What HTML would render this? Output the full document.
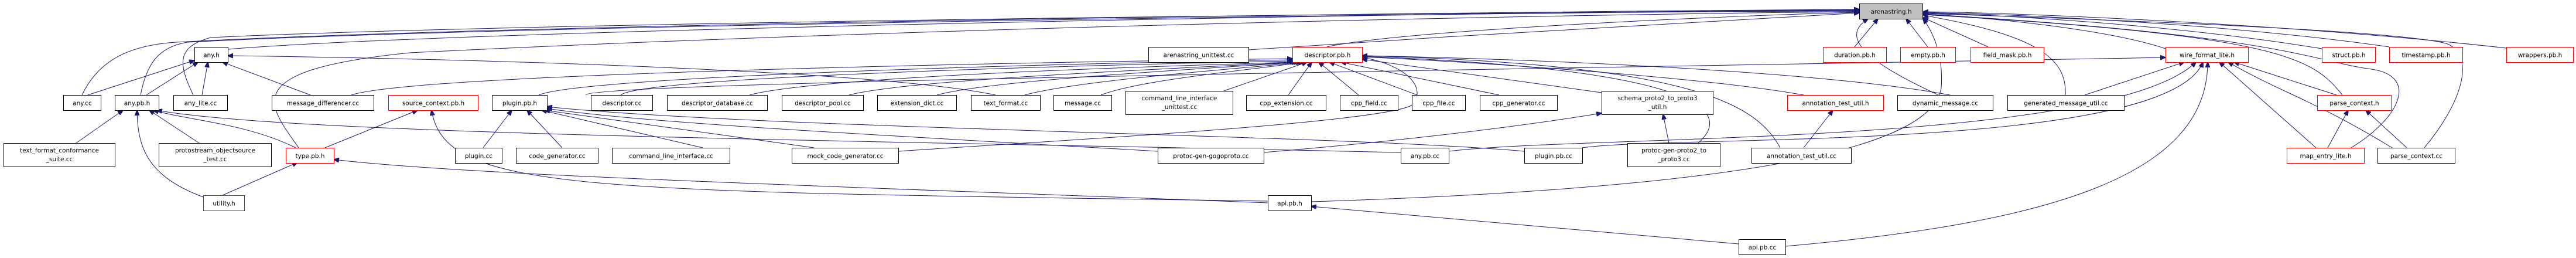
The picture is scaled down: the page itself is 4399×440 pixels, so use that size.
<!DOCTYPE html>
<html><head><meta charset="utf-8"><style>
html,body{margin:0;padding:0;background:#fff;}
svg{display:block;}
text{font-family:"DejaVu Sans","Liberation Sans",sans-serif;font-size:10.5px;fill:#000;}
.n{fill:#fff;stroke:#000;stroke-width:1;}
.r{fill:#fff;stroke:#ff0000;stroke-width:1;}
.g{fill:#bfbfbf;stroke:#000;stroke-width:1;}
path.e{fill:none;stroke:#191970;stroke-width:1;marker-end:url(#a);}
</style></head><body>
<svg width="4399" height="440" viewBox="0 0 4399 440" xmlns="http://www.w3.org/2000/svg">
<defs><marker id="a" markerWidth="10" markerHeight="8" refX="9" refY="4" orient="auto" markerUnits="userSpaceOnUse"><path d="M0,0 L10,4 L0,8 z" fill="#191970" stroke="#191970"/></marker></defs>
<g>
<!-- edges to arenastring.h -->
<path class="e" d="M389,84 C800,50 2500,20 3175,17"/>
<path class="e" d="M140,162 C165,110 210,78 300,72 C900,40 2500,20 3175,16"/>
<path class="e" d="M240,162 C250,110 270,80 320,72 C900,42 2500,22 3175,18"/>
<path class="e" d="M330,162 C305,110 300,80 360,64 C900,38 2500,20 3175,19"/>
<path class="e" d="M510,252 C460,180 400,120 700,90 C1500,50 2600,25 3175,20"/>
<path class="e" d="M2132,85 C2500,60 3000,30 3175,22"/>
<path class="e" d="M2266,80 C2400,50 3000,25 3175,21"/>
<path class="e" d="M3167,80 L3207,32"/>
<path class="e" d="M3292,80 L3255,32"/>
<path class="e" d="M3395,80 L3284,30"/>
<path class="e" d="M3698,83 C3600,50 3400,30 3284,24"/>
<path class="e" d="M3965,83 C3700,40 3400,25 3284,22"/>
<path class="e" d="M4080,80 C3800,40 3450,25 3284,21"/>
<path class="e" d="M4280,82 C3900,40 3450,22 3284,20"/>
<path class="e" d="M3310,162 C3220,120 3130,70 3190,32"/>
<path class="e" d="M3527,162 C3530,100 3480,60 3284,26"/>
<path class="e" d="M4000,162 C3950,100 3900,60 3284,25"/>
<path class="e" d="M4015,252 C4100,200 4130,130 4050,118 C3950,105 3900,60 3284,24"/>
<path class="e" d="M4140,252 C4200,180 4230,100 4180,75 C4100,50 3500,30 3284,23"/>
<path class="e" d="M2239,344 C3000,320 3300,250 3315,150 C3320,80 3290,40 3284,32"/>
<!-- descriptor.pb.h -->
<path class="e" d="M600,162 C700,130 1500,110 2207,100"/>
<path class="e" d="M920,162 C1000,130 1800,108 2207,102"/>
<path class="e" d="M1060,162 C1100,130 1900,110 2210,104"/>
<path class="e" d="M1280,162 C1400,130 2000,112 2212,106"/>
<path class="e" d="M1450,162 C1550,135 2050,115 2215,106"/>
<path class="e" d="M1600,162 C1700,135 2100,115 2218,106"/>
<path class="e" d="M1750,162 C1850,135 2150,115 2222,106"/>
<path class="e" d="M1880,162 C1950,135 2150,118 2226,106"/>
<path class="e" d="M2090,155 L2232,106"/>
<path class="e" d="M2200,162 L2240,106"/>
<path class="e" d="M2320,162 L2252,106"/>
<path class="e" d="M2420,162 L2270,106"/>
<path class="e" d="M2560,162 L2290,106"/>
<path class="e" d="M2735,158 L2326,101"/>
<path class="e" d="M3080,162 C2900,130 2500,105 2326,97"/>
<path class="e" d="M3330,162 C3100,120 2600,100 2326,95"/>
<path class="e" d="M2900,244 C2950,200 2950,120 2326,96"/>
<path class="e" d="M3040,252 C3000,180 2900,110 2326,95"/>
<path class="e" d="M1534,258 C1800,240 2350,210 2410,180 C2440,150 2400,110 2326,98"/>
<!-- any.h -->
<path class="e" d="M1700,162 C1500,120 800,100 389,95"/>
<path class="e" d="M150,162 L332,103"/>
<path class="e" d="M250,162 L338,106"/>
<path class="e" d="M345,162 L355,106"/>
<path class="e" d="M530,162 L380,106"/>
<!-- any.pb.h -->
<path class="e" d="M130,244 L210,188"/>
<path class="e" d="M340,244 L255,188"/>
<path class="e" d="M505,252 C420,210 320,205 262,188"/>
<path class="e" d="M347,336 C250,300 235,250 234,188"/>
<path class="e" d="M2392,260 C1500,240 500,230 268,188"/>
<!-- type.pb.h -->
<path class="e" d="M380,333 L508,277"/>
<path class="e" d="M2165,346 C1500,320 800,300 570,272"/>
<!-- source_context.pb.h -->
<path class="e" d="M555,252 L713,188"/>
<path class="e" d="M2165,343 C1000,325 760,330 737,188"/>
<!-- plugin.pb.h -->
<path class="e" d="M825,252 L874,188"/>
<path class="e" d="M960,252 L900,188"/>
<path class="e" d="M1200,252 L925,188"/>
<path class="e" d="M1390,252 L930,188"/>
<path class="e" d="M1977,258 C1500,230 1100,210 934,185"/>
<path class="e" d="M2603,258 C2300,230 1300,220 934,182"/>
<!-- schema -->
<path class="e" d="M2850,244 L2840,195"/>
<path class="e" d="M2158,260 C2400,240 2600,215 2735,193"/>
<!-- wire_format_lite.h -->
<path class="e" d="M1000,162 C1010,140 2500,120 3698,98"/>
<path class="e" d="M3560,162 L3730,106"/>
<path class="e" d="M3990,162 L3815,106"/>
<path class="e" d="M3955,252 L3790,106"/>
<path class="e" d="M4085,252 C3950,170 3900,160 3805,106"/>
<path class="e" d="M3049,420 C3500,380 3770,300 3770,106"/>
<path class="e" d="M2474,258 C2700,230 3600,250 3750,106"/>
<path class="e" d="M2702,252 C2850,230 3700,260 3762,106"/>
<!-- misc -->
<path class="e" d="M3080,252 L3130,188"/>
<path class="e" d="M3975,252 L4010,188"/>
<path class="e" d="M4110,252 L4040,188"/>
<path class="e" d="M2969,416 L2239,352"/>
</g>
<g>
<!-- row0 -->
<rect class="g" x="3175.5" y="6.5" width="108" height="26"/><text x="3229.5" y="23.5" text-anchor="middle">arenastring.h</text>
<!-- row1 -->
<rect class="n" x="332.5" y="80.5" width="57" height="26"/><text x="361" y="97.5" text-anchor="middle">any.h</text>
<rect class="n" x="1961.5" y="80.5" width="171" height="26"/><text x="2047" y="97.5" text-anchor="middle">arenastring_unittest.cc</text>
<rect class="r" x="2207.5" y="80.5" width="119" height="26"/><text x="2267" y="97.5" text-anchor="middle">descriptor.pb.h</text>
<rect class="r" x="3113.5" y="80.5" width="108" height="26"/><text x="3167.5" y="97.5" text-anchor="middle">duration.pb.h</text>
<rect class="r" x="3245.5" y="80.5" width="94" height="26"/><text x="3292.5" y="97.5" text-anchor="middle">empty.pb.h</text>
<rect class="r" x="3365.5" y="80.5" width="125" height="26"/><text x="3428" y="97.5" text-anchor="middle">field_mask.pb.h</text>
<rect class="r" x="3698.5" y="80.5" width="141" height="26"/><text x="3769" y="97.5" text-anchor="middle">wire_format_lite.h</text>
<rect class="r" x="3965.5" y="80.5" width="91" height="26"/><text x="4011" y="97.5" text-anchor="middle">struct.pb.h</text>
<rect class="r" x="4080.5" y="80.5" width="125" height="26"/><text x="4143" y="97.5" text-anchor="middle">timestamp.pb.h</text>
<rect class="r" x="4280.5" y="80.5" width="114" height="26"/><text x="4337.5" y="97.5" text-anchor="middle">wrappers.pb.h</text>
<!-- row2 -->
<rect class="n" x="108.5" y="162.5" width="64" height="26"/><text x="140.5" y="179.5" text-anchor="middle">any.cc</text>
<rect class="n" x="196.5" y="162.5" width="75" height="26"/><text x="234" y="179.5" text-anchor="middle">any.pb.h</text>
<rect class="n" x="296.5" y="162.5" width="92" height="26"/><text x="342.5" y="179.5" text-anchor="middle">any_lite.cc</text>
<rect class="n" x="464.5" y="162.5" width="174" height="26"/><text x="551.5" y="179.5" text-anchor="middle">message_differencer.cc</text>
<rect class="r" x="663.5" y="162.5" width="153" height="26"/><text x="740" y="179.5" text-anchor="middle">source_context.pb.h</text>
<rect class="n" x="840.5" y="162.5" width="94" height="26"/><text x="887.5" y="179.5" text-anchor="middle">plugin.pb.h</text>
<rect class="n" x="1009.5" y="162.5" width="105" height="26"/><text x="1062" y="179.5" text-anchor="middle">descriptor.cc</text>
<rect class="n" x="1139.5" y="162.5" width="171" height="26"/><text x="1225" y="179.5" text-anchor="middle">descriptor_database.cc</text>
<rect class="n" x="1335.5" y="162.5" width="139" height="26"/><text x="1405" y="179.5" text-anchor="middle">descriptor_pool.cc</text>
<rect class="n" x="1498.5" y="162.5" width="135" height="26"/><text x="1566" y="179.5" text-anchor="middle">extension_dict.cc</text>
<rect class="n" x="1658.5" y="162.5" width="118" height="26"/><text x="1717.5" y="179.5" text-anchor="middle">text_format.cc</text>
<rect class="n" x="1799.5" y="162.5" width="99" height="26"/><text x="1849" y="179.5" text-anchor="middle">message.cc</text>
<rect class="n" x="1922.5" y="155.5" width="183" height="40"/><text x="2014" y="171" text-anchor="middle">command_line_interface</text><text x="2014" y="186" text-anchor="middle">_unittest.cc</text>
<rect class="n" x="2128.5" y="162.5" width="136" height="26"/><text x="2196.5" y="179.5" text-anchor="middle">cpp_extension.cc</text>
<rect class="n" x="2288.5" y="162.5" width="99" height="26"/><text x="2338" y="179.5" text-anchor="middle">cpp_field.cc</text>
<rect class="n" x="2411.5" y="162.5" width="91" height="26"/><text x="2457" y="179.5" text-anchor="middle">cpp_file.cc</text>
<rect class="n" x="2527.5" y="162.5" width="132" height="26"/><text x="2593.5" y="179.5" text-anchor="middle">cpp_generator.cc</text>
<rect class="n" x="2735.5" y="155.5" width="190" height="40"/><text x="2830.5" y="171" text-anchor="middle">schema_proto2_to_proto3</text><text x="2830.5" y="186" text-anchor="middle">_util.h</text>
<rect class="r" x="3052.5" y="162.5" width="164" height="26"/><text x="3134.5" y="179.5" text-anchor="middle">annotation_test_util.h</text>
<rect class="n" x="3240.5" y="162.5" width="163" height="26"/><text x="3322" y="179.5" text-anchor="middle">dynamic_message.cc</text>
<rect class="n" x="3428.5" y="162.5" width="199" height="26"/><text x="3528" y="179.5" text-anchor="middle">generated_message_util.cc</text>
<rect class="r" x="3957.5" y="162.5" width="126" height="26"/><text x="4020.5" y="179.5" text-anchor="middle">parse_context.h</text>
<!-- row3 -->
<rect class="n" x="6.5" y="244.5" width="190" height="40"/><text x="101.5" y="260" text-anchor="middle">text_format_conformance</text><text x="101.5" y="275" text-anchor="middle">_suite.cc</text>
<rect class="n" x="271.5" y="244.5" width="192" height="40"/><text x="367.5" y="260" text-anchor="middle">protostream_objectsource</text><text x="367.5" y="275" text-anchor="middle">_test.cc</text>
<rect class="r" x="488.5" y="252.5" width="82" height="26"/><text x="529.5" y="269.5" text-anchor="middle">type.pb.h</text>
<rect class="n" x="777.5" y="252.5" width="80" height="26"/><text x="817.5" y="269.5" text-anchor="middle">plugin.cc</text>
<rect class="n" x="881.5" y="252.5" width="140" height="26"/><text x="951.5" y="269.5" text-anchor="middle">code_generator.cc</text>
<rect class="n" x="1045.5" y="252.5" width="201" height="26"/><text x="1146" y="269.5" text-anchor="middle">command_line_interface.cc</text>
<rect class="n" x="1352.5" y="252.5" width="182" height="26"/><text x="1443.5" y="269.5" text-anchor="middle">mock_code_generator.cc</text>
<rect class="n" x="1977.5" y="252.5" width="181" height="26"/><text x="2068" y="269.5" text-anchor="middle">protoc-gen-gogoproto.cc</text>
<rect class="n" x="2392.5" y="252.5" width="82" height="26"/><text x="2433.5" y="269.5" text-anchor="middle">any.pb.cc</text>
<rect class="n" x="2603.5" y="252.5" width="99" height="26"/><text x="2653" y="269.5" text-anchor="middle">plugin.pb.cc</text>
<rect class="n" x="2779.5" y="244.5" width="158" height="40"/><text x="2858.5" y="260" text-anchor="middle">protoc-gen-proto2_to</text><text x="2858.5" y="275" text-anchor="middle">_proto3.cc</text>
<rect class="n" x="2991.5" y="252.5" width="170" height="26"/><text x="3076.5" y="269.5" text-anchor="middle">annotation_test_util.cc</text>
<rect class="r" x="3905.5" y="252.5" width="132" height="26"/><text x="3971.5" y="269.5" text-anchor="middle">map_entry_lite.h</text>
<rect class="n" x="4060.5" y="252.5" width="132" height="26"/><text x="4126.5" y="269.5" text-anchor="middle">parse_context.cc</text>
<!-- row4/5 -->
<rect class="r" x="347.5" y="333.5" width="70" height="26"/><text x="382.5" y="350.5" text-anchor="middle">utility.h</text>
<rect class="n" x="2165.5" y="333.5" width="74" height="26"/><text x="2202.5" y="350.5" text-anchor="middle">api.pb.h</text>
<rect class="n" x="2969.5" y="408.5" width="80" height="26"/><text x="3009.5" y="425.5" text-anchor="middle">api.pb.cc</text>
</g>
</svg>
</body></html>
